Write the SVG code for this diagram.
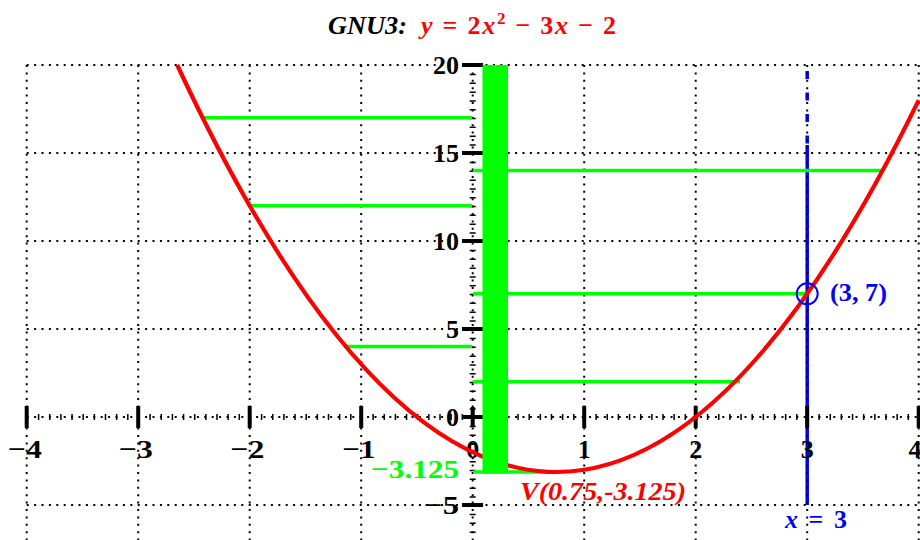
<svg xmlns="http://www.w3.org/2000/svg" width="920" height="540" viewBox="0 0 920 540">
<style>
.grid{stroke:#000;stroke-width:2;stroke-dasharray:2 5.4;fill:none}
.major{stroke:#000;stroke-width:4;fill:none}
.minor{stroke:#000;fill:none}
.gl{stroke:#00ff00;stroke-width:3.5;fill:none}
.t{font-family:"Liberation Serif","DejaVu Serif",serif;font-weight:bold;font-size:26px}
.k{fill:#000}
.i{font-style:italic}
</style>
<rect width="920" height="540" fill="#fff"/>
<g id="xline">
<line x1="807.2" y1="65" x2="807.2" y2="145" stroke="#0000ff" stroke-width="3.5" stroke-dasharray="8 13.5" stroke-dashoffset="-6"/>
<line x1="807.2" y1="145" x2="807.2" y2="505" stroke="#0000ff" stroke-width="3.5"/>
</g>
<g id="grid">
<path class="grid" d="M26.7,65V540M138.2,65V540M249.7,65V540M361.2,65V540M584.2,65V540M695.7,65V540M807.2,65V540M918.7,65V540M26.7,65H918.7M26.7,153H918.7M26.7,241H918.7M26.7,329H918.7M26.7,505H918.7"/>
</g>
<g id="axes">
<line class="grid" x1="26.7" y1="417" x2="918.7" y2="417"/>
<line class="minor" x1="26.7" y1="417" x2="918.7" y2="417" stroke-width="6" stroke-dasharray="1.5 9.65"/>
<line class="grid" x1="472.7" y1="65" x2="472.7" y2="540"/>
<line class="minor" x1="472.7" y1="65" x2="472.7" y2="540" stroke-width="6" stroke-dasharray="1.5 7.3"/>
<path class="major" d="M26.7,406V428M138.2,406V428M249.7,406V428M361.2,406V428M472.7,407V427M584.2,406V428M695.7,406V428M807.2,406V428M918.7,406V428M462,65H483M462,153H483M462,241H483M462,329H483M462,417H483M462,505H483"/>
</g>
<g id="xlabels" class="t k" text-anchor="middle">
<text x="25" y="458" textLength="34" lengthAdjust="spacingAndGlyphs">−4</text>
<text x="136" y="458" textLength="34" lengthAdjust="spacingAndGlyphs">−3</text>
<text x="247.5" y="458" textLength="34" lengthAdjust="spacingAndGlyphs">−2</text>
<text x="359" y="458" textLength="33" lengthAdjust="spacingAndGlyphs">−1</text>
<text x="472.7" y="458">0</text>
<text x="584.2" y="458">1</text>
<text x="695.7" y="458">2</text>
<text x="807.2" y="458">3</text>
<text x="915" y="458">4</text>
</g>
<g id="ylabels" class="t k" text-anchor="end">
<text x="459" y="74">20</text>
<text x="459" y="162">15</text>
<text x="459" y="250">10</text>
<text x="459" y="338">5</text>
<text x="459" y="426">0</text>
<text x="459" y="514" textLength="35" lengthAdjust="spacingAndGlyphs">−5</text>
</g>
<g id="chords">
<path class="gl" d="M204,117.8H472M249.7,205.8H472M344,346.6H472M473,170.6H884M473,293.8H807.2M473,381.8H740M473,472H557"/>
</g>
<g id="curve">
<path d="M177.2,65 Q547.9,861 918.7,100.2" fill="none" stroke="#ff0000" stroke-width="4.2"/>
</g>
<g id="bar">
<rect x="482.5" y="65" width="25.5" height="408.5" fill="#00ff00"/>
</g>
<g id="point">
<circle cx="807.2" cy="293.8" r="10.5" fill="none" stroke="#0000ff" stroke-width="2"/>
<text class="t" x="830" y="301" fill="#0000ff" textLength="57" lengthAdjust="spacingAndGlyphs">(3, 7)</text>
</g>
<g id="labels">
<text class="t" x="785" y="528" fill="#0000ff" textLength="62" lengthAdjust="spacing"><tspan class="i">x</tspan> = 3</text>
<text class="t" x="459" y="478" fill="#00ff00" text-anchor="end" textLength="88" lengthAdjust="spacingAndGlyphs">−3.125</text>
<text class="t i" x="520" y="500" fill="#ff0000" textLength="166" lengthAdjust="spacingAndGlyphs">V(0.75,-3.125)</text>
</g>
<g id="title">
<text class="t i k" x="328" y="34" textLength="79" lengthAdjust="spacingAndGlyphs">GNU3:</text>
<text class="t" x="421" y="34" fill="#ff0000" textLength="195" lengthAdjust="spacing"><tspan class="i">y</tspan> = 2<tspan class="i">x</tspan><tspan dy="-10" font-size="17">2</tspan><tspan dy="10"> − 3</tspan><tspan class="i">x</tspan> − 2</text>
</g>
</svg>
